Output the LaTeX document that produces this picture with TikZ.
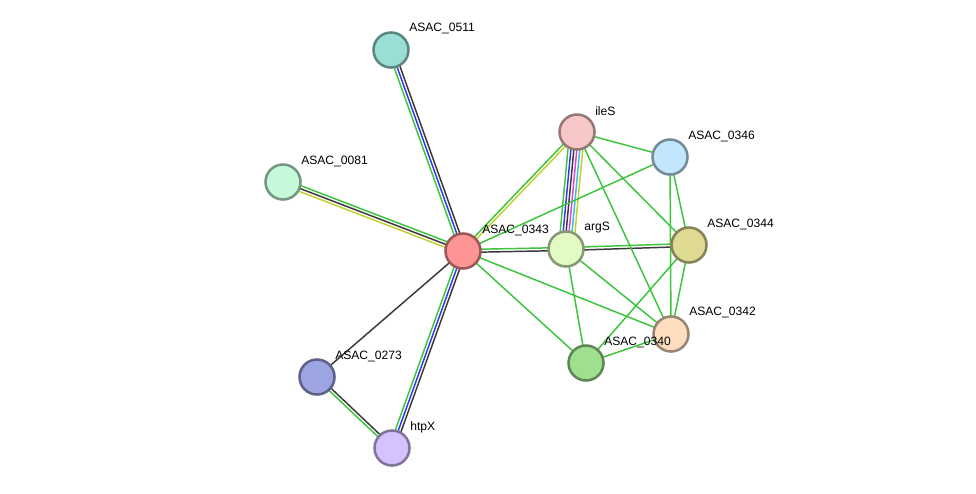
\documentclass[tikz,border=0pt]{standalone}
\usepackage{fontspec}
\setmainfont{Liberation Sans}
\usetikzlibrary{calc,backgrounds}

\definecolor{egreen}{HTML}{3CC43C}
\definecolor{eblue}{HTML}{3535F0}
\definecolor{eblack}{HTML}{3A3A3A}
\definecolor{eyellow}{HTML}{C4CF30}
\definecolor{emagenta}{HTML}{E040E0}
\definecolor{ecyan}{HTML}{35C0E0}

% one coloured line per evidence channel, offset side by side
\newcommand{\lnk}[3]{%
  \foreach \col/\off in {#3}{%
    \draw[\col, line width=1.05pt]
      ($(#1.center)!\off*2.1pt!90:(#2.center)$) --
      ($(#2.center)!\off*2.1pt!-90:(#1.center)$);}}

\begin{document}
\begin{tikzpicture}[x=0.025cm, y=-0.025cm,
  prot/.style={circle, draw=#1!60!black, fill=#1, line width=1.8pt,
    minimum size=0.875cm, inner sep=0pt},
  lbl/.style={anchor=west, inner sep=0pt, font=\fontsize{8.6}{10}\selectfont}]
\useasboundingbox (0,0) rectangle (976,494);

\definecolor{c0511}{HTML}{99DFD6}
\definecolor{cile}{HTML}{F8C8C8}
\definecolor{c0346}{HTML}{C2E7FC}
\definecolor{c0081}{HTML}{C4FADA}
\definecolor{c0343}{HTML}{FF9494}
\definecolor{carg}{HTML}{E2FBC4}
\definecolor{c0344}{HTML}{DFDA92}
\definecolor{c0342}{HTML}{FFDEC0}
\definecolor{c0340}{HTML}{9FE08F}
\definecolor{c0273}{HTML}{9CA4E2}
\definecolor{chtp}{HTML}{D4C3FC}

% proteins
\node[prot=c0511] (p0511) at (391, 50) {};
\node[prot=cile]  (ileS)  at (577,132) {};
\node[prot=c0346] (p0346) at (670,157) {};
\node[prot=c0081] (p0081) at (283,182) {};
\node[prot=c0343] (p0343) at (463,251) {};
\node[prot=carg]  (argS)  at (566,249) {};
\node[prot=c0344] (p0344) at (689,245) {};
\node[prot=c0342] (p0342) at (671,334) {};
\node[prot=c0340] (p0340) at (586,363) {};
\node[prot=c0273] (p0273) at (317,377) {};
\node[prot=chtp]  (htpX)  at (392,448) {};

% names
\node[lbl] (l0511) at ([shift={(18,-22)}]p0511.center) {ASAC\_0511};
\node[lbl] (lile)  at ([shift={(18,-21)}]ileS.center)  {ileS};
\node[lbl] (l0346) at ([shift={(18,-21)}]p0346.center) {ASAC\_0346};
\node[lbl] (l0081) at ([shift={(18,-21)}]p0081.center) {ASAC\_0081};
\node[lbl] (l0343) at ([shift={(19,-21)}]p0343.center) {ASAC\_0343};
\node[lbl] (larg)  at ([shift={(18,-21)}]argS.center)  {argS};
\node[lbl] (l0344) at ([shift={(18,-21)}]p0344.center) {ASAC\_0344};
\node[lbl] (l0342) at ([shift={(18,-22)}]p0342.center) {ASAC\_0342};
\node[lbl] (l0340) at ([shift={(18,-21)}]p0340.center) {ASAC\_0340};
\node[lbl] (l0273) at ([shift={(18,-21)}]p0273.center) {ASAC\_0273};
\node[lbl] (lhtp)  at ([shift={(18,-21)}]htpX.center)  {htpX};

% interactions
\begin{scope}[on background layer]
\lnk{p0343}{p0511}{egreen/1, eblue/0, eblack/-1}
\lnk{p0343}{p0081}{egreen/-1, eblack/0, eyellow/1}
\lnk{p0343}{htpX}{egreen/-1, eblue/0, eblack/1}
\lnk{p0343}{p0273}{eblack/0}
\lnk{p0273}{htpX}{eblack/0.5, egreen/-0.5}
\lnk{p0343}{argS}{egreen/0.5, eblack/-0.5}
\lnk{argS}{p0344}{egreen/0.5, eblack/-0.5}
\lnk{p0343}{ileS}{egreen/0.5, eyellow/-0.5}
\lnk{ileS}{argS}{egreen/-2.5, eblue/-1.5, eblack/-0.5, emagenta/0.5, ecyan/1.5, eyellow/2.5}
\lnk{p0343}{p0346}{egreen/0}
\lnk{p0343}{p0342}{egreen/0}
\lnk{p0343}{p0340}{egreen/0}
\lnk{ileS}{p0346}{egreen/0}
\lnk{ileS}{p0344}{egreen/0}
\lnk{ileS}{p0342}{egreen/0}
\lnk{argS}{p0342}{egreen/0}
\lnk{argS}{p0340}{egreen/0}
\lnk{p0346}{p0344}{egreen/0}
\lnk{p0346}{p0342}{egreen/0}
\lnk{p0344}{p0342}{egreen/0}
\lnk{p0344}{p0340}{egreen/0}
\lnk{p0342}{p0340}{egreen/0}
\end{scope}
\end{tikzpicture}
\end{document}
